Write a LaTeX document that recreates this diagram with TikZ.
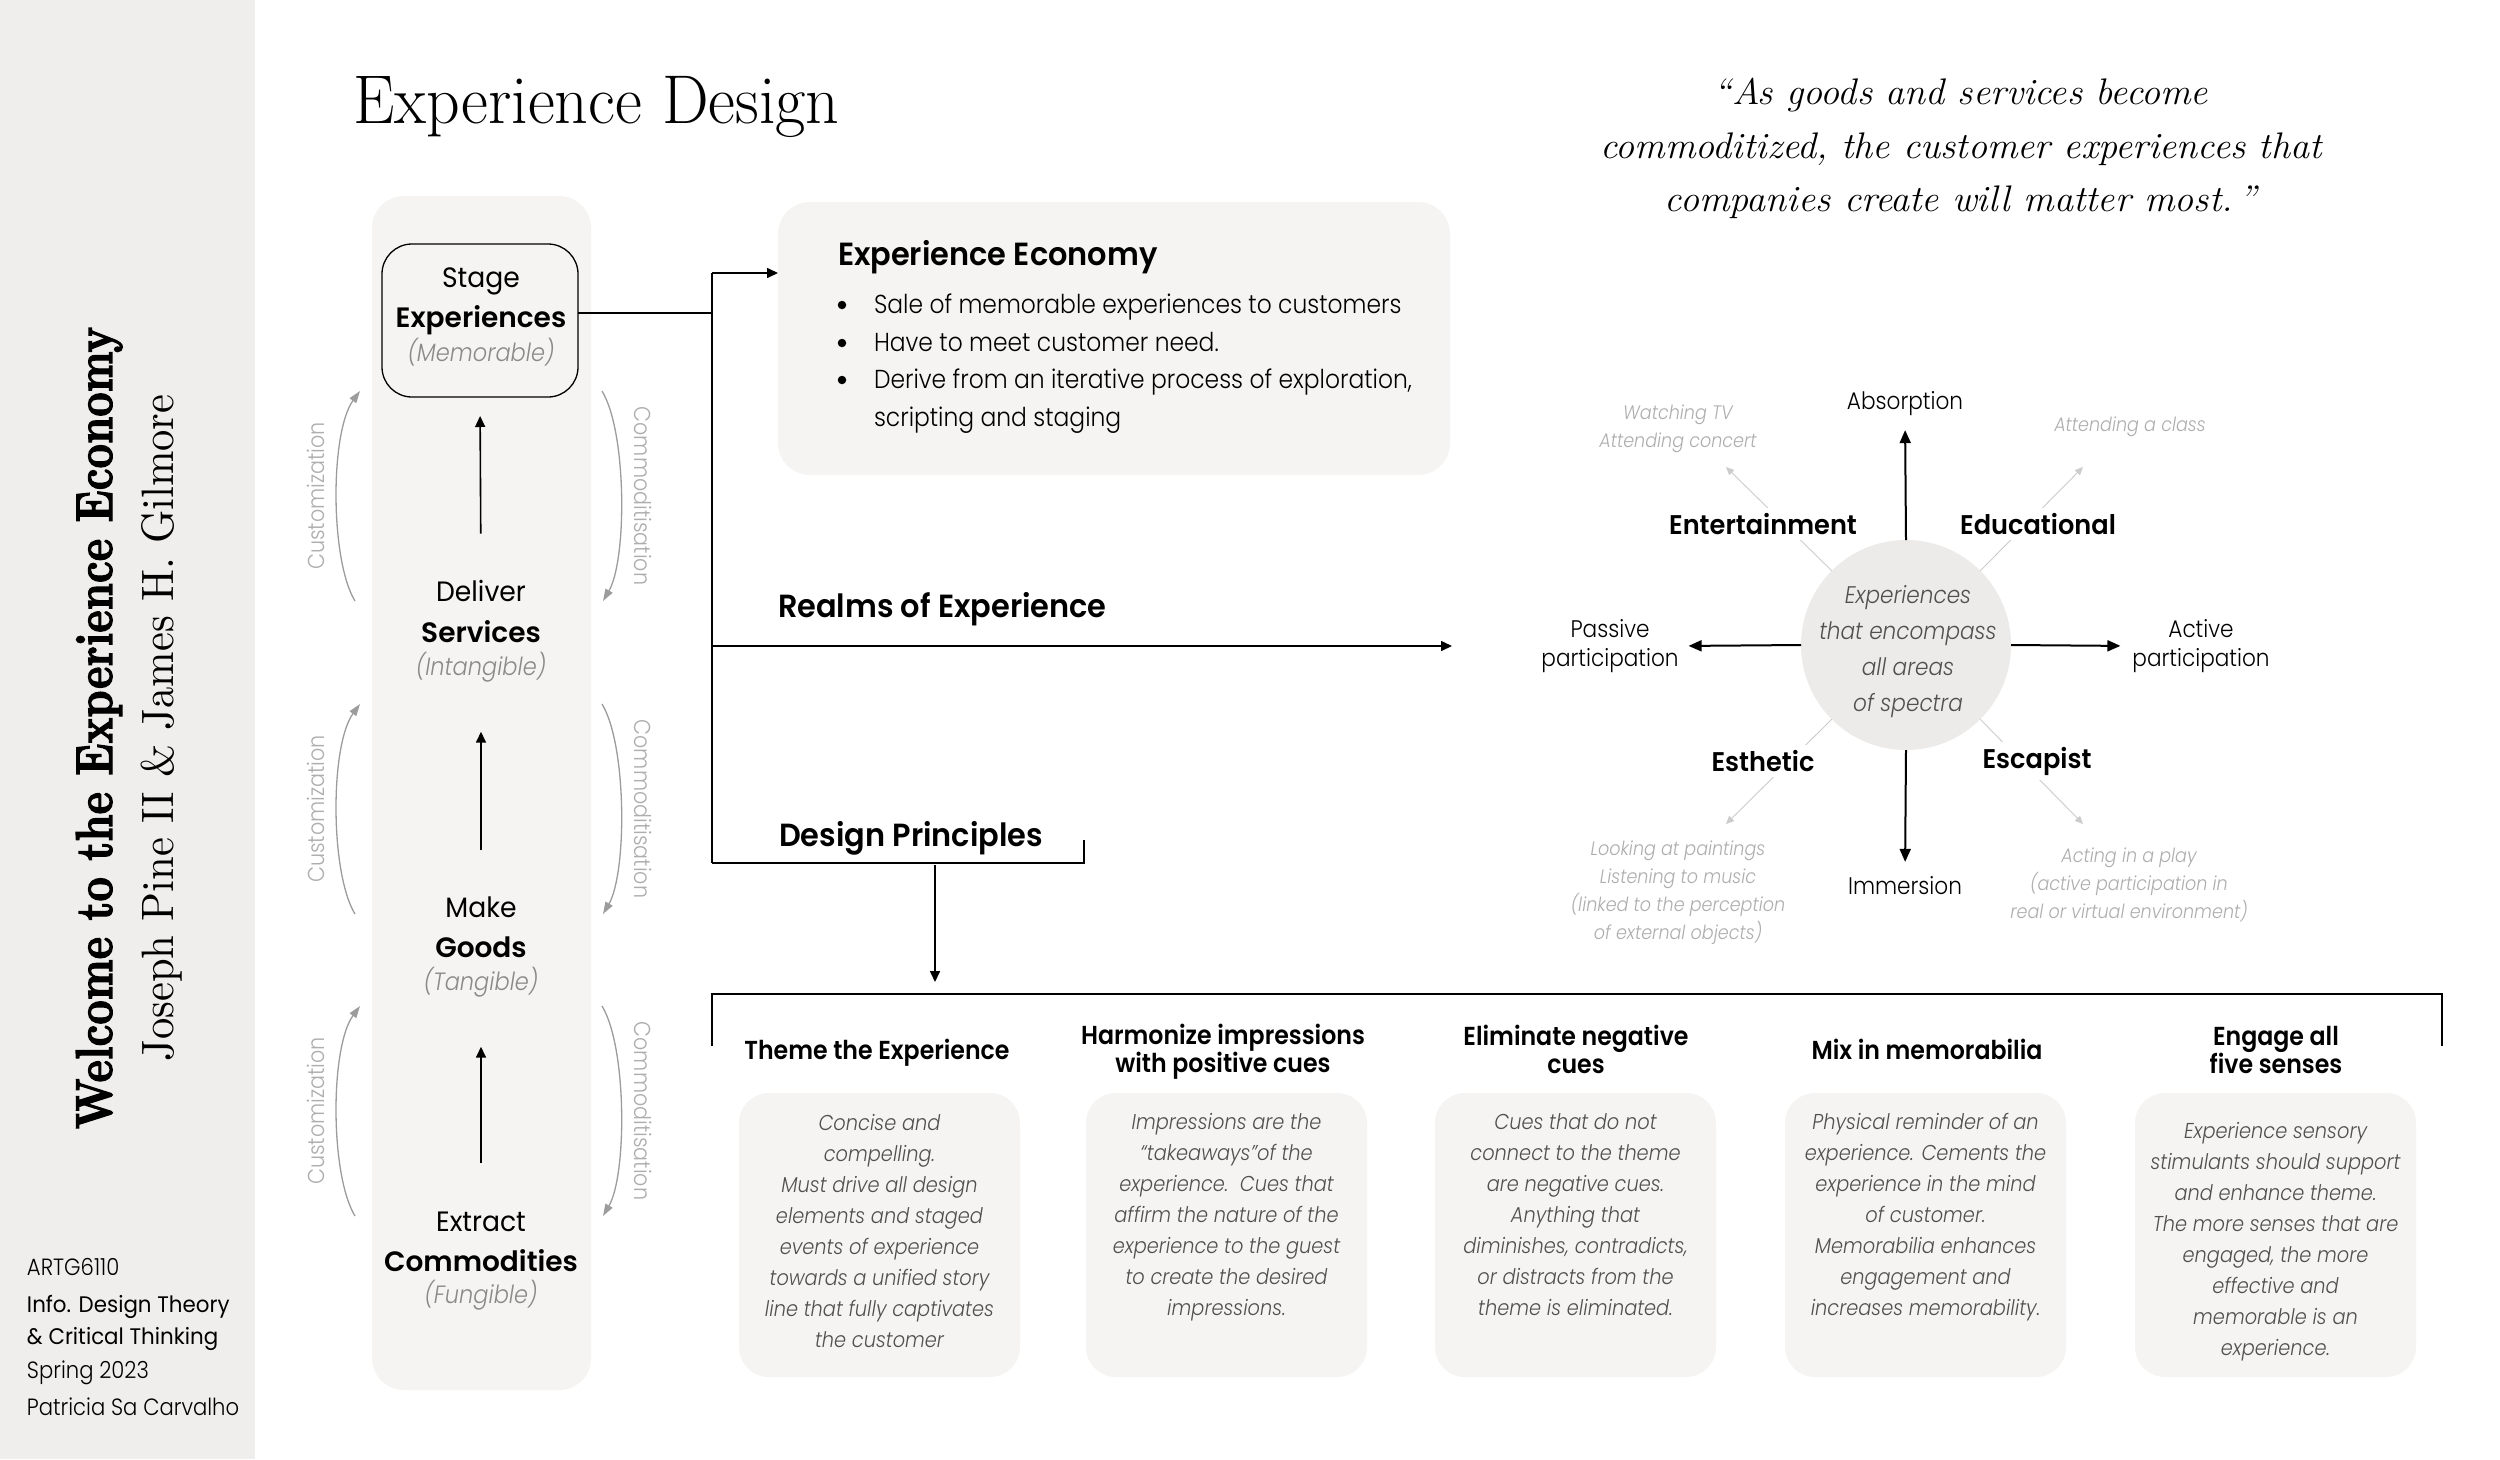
\documentclass[tikz,border=0pt]{standalone}
\usepackage{fontspec}
\usepackage{graphicx}
\usetikzlibrary{arrows.meta}

\newfontfamily\fL{Poppins}[UprightFont=* Light, ItalicFont=* Light Italic, BoldFont=* SemiBold, FakeStretch=0.9]
\newfontfamily\fR{Poppins}[FakeStretch=0.95]
\newfontfamily\fB{Poppins}[UprightFont=* SemiBold, FakeStretch=0.95]
\newfontfamily\fBn{Poppins}[UprightFont=* SemiBold, FakeStretch=0.91]
\newfontfamily\fBw{Poppins}[UprightFont=* SemiBold]
\newfontfamily\qfont{Latin Modern Roman}[FakeStretch=1.03]
\newfontfamily\tfont{Latin Modern Roman}[FakeStretch=0.955]
\newfontfamily\vbold{Latin Modern Roman}[FakeBold=2.5]

\definecolor{stripc}{HTML}{EFEEEC}
\definecolor{panelc}{HTML}{F5F4F2}
\definecolor{circc}{HTML}{ECEBE9}
\definecolor{lightg}{HTML}{AEAEAE}
\definecolor{diagg}{HTML}{CCCCCC}
\definecolor{arcg}{HTML}{9C9C9C}
\definecolor{midg}{HTML}{8A8A8A}
\definecolor{textg}{HTML}{505050}

\tikzset{
  conn/.style={line width=1.6pt, draw=black},
  arr/.style={conn, -{Triangle[length=11pt,width=10pt]}},
  bigarr/.style={line width=2pt, draw=black, -{Triangle[length=13pt,width=11pt]}},
  diagline/.style={line width=0.9pt, draw=diagg, -{Triangle[length=8pt,width=7pt]}},
  arcline/.style={line width=1.3pt, draw=arcg, -{Triangle[length=12pt,width=8pt]}},
  arclabel/.style={font=\fL\fontsize{23}{25}\selectfont, text=lightg},
  panel/.style={fill=panelc, rounded corners=32pt, draw=none},
  lvlA/.style={anchor=base, font=\fR\fontsize{28}{30}\selectfont},
  lvlB/.style={anchor=base, font=\fBw\fontsize{28}{30}\selectfont},
  lvlC/.style={anchor=base, font=\fL\itshape\fontsize{25}{27}\selectfont, text=midg},
  headtxt/.style={anchor=base west, font=\fB\fontsize{32}{36}\selectfont},
  bodytxt/.style={anchor=base west, font=\fL\fontsize{26}{32}\selectfont},
  bullet/.style={circle, fill=black, minimum size=8.5pt},
  phead/.style={font=\fBn\fontsize{26}{28}\selectfont, align=center},
  cardbox/.style={panel, rounded corners=30pt, minimum width=281pt, minimum height=284pt},
  ctext/.style={font=\fL\itshape\fontsize{21.5}{31}\selectfont, text=textg, align=center},
  realm/.style={font=\fB\fontsize{27}{30}\selectfont, fill=white, inner sep=5pt},
  axislbl/.style={font=\fL\fontsize{24}{29}\selectfont, align=center},
  example/.style={font=\fL\itshape\fontsize{19.5}{28}\selectfont, text=lightg, align=center},
  course/.style={anchor=base west, font=\fL\fontsize{23.5}{24}\selectfont},
  courseR/.style={anchor=base west, font=\fR\fontsize{22.5}{24}\selectfont},
  quote/.style={anchor=base, font=\qfont\itshape\fontsize{37}{40}\selectfont},
}

\begin{document}
\begin{tikzpicture}[x=1pt,y=-1pt, every node/.style={inner sep=0pt, outer sep=0pt}]
\useasboundingbox (0,0) rectangle (2500,1459);
\fill[white] (0,0) rectangle (2500,1459);
\fill[stripc] (0,0) rectangle (255,1459);

% ---- left strip
\node[rotate=90, anchor=base] (welcome) at (112,728)
  {\resizebox{802pt}{36pt}{\vbold\bfseries Welcome to the Experience Economy}};
\node[rotate=90, anchor=base] (authors) at (173,728)
  {\resizebox{667pt}{32.5pt}{Joseph Pine II \& James H. Gilmore}};
\node[course]  (c1) at (27,1275) {ARTG6110};
\node[courseR] (c2) at (27,1312) {Info. Design Theory};
\node[courseR] (c3) at (27,1344) {\& Critical Thinking};
\node[course]  (c4) at (27,1378) {Spring 2023};
\node[course]  (c5) at (27,1415) {Patricia Sa Carvalho};

% ---- title and quote
\node[anchor=base west] (title) at (353,123) {\tfont\fontsize{69}{80}\selectfont Experience Design};
\node[quote] (q1) at (1961,104) {“As goods and services become};
\node[quote] (q2) at (1961,158) {commoditized, the customer experiences that};
\node[quote] (q3) at (1961,211) {companies create will matter most.\,”};

% ---- level column
\node[panel, minimum width=219pt, minimum height=1194pt] (col) at (481.5,793) {};
\node[draw, line width=1.3pt, rounded corners=30pt, fill=panelc, minimum width=196pt, minimum height=153pt] (stagebox) at (480,320.5) {};

\node[lvlA] (stA) at (481,287) {Stage};
\node[lvlB] (stB) at (481,327) {Experiences};
\node[lvlC] (stC) at (481,361) {(Memorable)};
\node[lvlA] (dlA) at (481,601) {Deliver};
\node[lvlB] (dlB) at (481,642) {Services};
\node[lvlC] (dlC) at (481,675) {(Intangible)};
\node[lvlA] (mkA) at (481,917) {Make};
\node[lvlB] (mkB) at (481,957) {Goods};
\node[lvlC] (mkC) at (481,990) {(Tangible)};
\node[lvlA] (exA1) at (481,1231) {Extract};
\node[lvlB] (exB1) at (481,1271) {Commodities};
\node[lvlC] (exC1) at (481,1303) {(Fungible)};

\draw[arr, shorten <=46pt, shorten >=19pt] (dlA.north) -- (stagebox.south);
\draw[arr, shorten <=46pt, shorten >=50pt] (mkA.north) -- (dlC.south);
\draw[arr, shorten <=48pt, shorten >=50pt] (exA1.north) -- (mkC.south);

\foreach \dy/\nm in {0/a,313/b,615/c}{
  \draw[arcline] (355,{601+\dy}) .. controls (330,{560+\dy}) and (330,{432+\dy}) .. (360,{391+\dy});
  \draw[arcline] (602,{391+\dy}) .. controls (627,{432+\dy}) and (627,{560+\dy}) .. (603,{601+\dy});
  \node[arclabel, rotate=90] (cust\nm) at (316,{496+\dy}) {Customization};
  \node[arclabel, rotate=-90] (comm\nm) at (643,{496+\dy}) {Commoditisation};
}

% ---- experience economy box
\node[panel, minimum width=672pt, minimum height=273pt] (econ) at (1114,338.5) {};
\node[headtxt] (econH) at (838,265) {Experience Economy};
\node[bullet] (bu1) at (842,305) {};
\node[bullet] (bu2) at (842,343) {};
\node[bullet] (bu3) at (842,380) {};
\node[bodytxt] (e1) at (874,313) {Sale of memorable experiences to customers};
\node[bodytxt] (e2) at (874,351) {Have to meet customer need.};
\node[bodytxt] (e3) at (874,388) {Derive from an iterative process of exploration,};
\node[bodytxt] (e4) at (874,426) {scripting and staging};

% ---- connectors
\coordinate (jS) at (712,313);
\coordinate (jT) at (712,273);
\coordinate (jB) at (712,863);
\coordinate (rTip) at (1452,646);
\coordinate (dpEnd) at (1084,840);
\draw[conn] (stagebox.east |- jS) -- (jS);
\draw[conn] (jT) -- (jB);
\draw[arr] (jT) -- (econ.west |- jT);
\draw[arr] (jT |- rTip) -- (rTip);
\draw[conn] (jB) -- (jB -| dpEnd) -- (dpEnd);
\node[headtxt] (realmsH) at (778,617) {Realms of Experience};
\node[headtxt] (dpH) at (779,846) {Design Principles};
\coordinate (dA) at (935,865);
\coordinate (dB) at (935,982);
\draw[arr] (dA) -- (dB);
\coordinate (bL) at (712,1046);
\coordinate (bR) at (2442,1046);
\draw[line width=2pt] (bL) -- (712,994) -- (2442,994) -- (bR);

% ---- realms diagram
\node[circle, fill=circc, minimum size=210pt, inner sep=0pt] (circ) at (1906,645) {};
\node[align=center, font=\fL\itshape\fontsize{24}{36}\selectfont, text=textg] (circT) at (1908,652)
      {Experiences\\that encompass\\all areas\\of spectra};
\node[axislbl] (absorp) at (1905,404) {Absorption};
\node[axislbl] (immers) at (1905,886) {Immersion};
\node[axislbl] (passive) at (1610,646) {Passive\\participation};
\node[axislbl] (active) at (2201,646) {Active\\participation};
\draw[bigarr, shorten >=14pt] (circ.north) -- (absorp.south);
\draw[bigarr, shorten >=15pt] (circ.south) -- (immers.north);
\draw[bigarr, shorten >=10pt] (circ.west) -- (passive.east);
\draw[bigarr, shorten >=12pt] (circ.east) -- (active.west);

\coordinate (tNW) at (1726,467);
\coordinate (tNE) at (2083,467);
\coordinate (tSW) at (1726,824);
\coordinate (tSE) at (2083,824);
\draw[diagline] (circ.135) -- (tNW);
\draw[diagline] (circ.45) -- (tNE);
\draw[diagline] (circ.225) -- (tSW);
\draw[diagline] (circ.315) -- (tSE);

\node[realm] (ent) at (1763,524) {Entertainment};
\node[realm] (edu) at (2038,524) {Educational};
\node[realm] (est) at (1763,761) {Esthetic};
\node[realm] (esc) at (2037,761) {Escapist};

\node[example] (xA) at (1678,429) {Watching TV\\Attending concert};
\node[example] (xB) at (2130,427) {Attending a class};
\node[example] (xC) at (1678,893) {Looking at paintings\\Listening to music\\(linked to the perception\\of external objects)};
\node[example] (xD) at (2129,885) {Acting in a play\\(active participation in\\real or virtual environment)};

% ---- design principles
\node[phead, anchor=base] (p1) at (877,1059) {Theme the Experience};
\node[phead] (p2) at (1223,1052) {Harmonize impressions\\with positive cues};
\node[phead] (p3) at (1576,1049.5) {Eliminate negative\\cues};
\node[phead, anchor=base] (p4) at (1927,1059) {Mix in memorabilia};
\node[phead] (p5) at (2276,1049.5) {Engage all\\five senses};

\node[cardbox] (k1) at (879.5,1235) {};
\node[cardbox] (k2) at (1226.5,1235) {};
\node[cardbox] (k3) at (1575.5,1235) {};
\node[cardbox] (k4) at (1925.5,1235) {};
\node[cardbox] (k5) at (2275.5,1235) {};

\node[ctext] (t1) at (879.5,1230.5) {Concise and\\compelling.\\Must drive all design\\elements and staged\\events of experience\\towards a unified story\\line that fully captivates\\the customer};
\node[ctext] (t2) at (1226.5,1217.5) {Impressions are the\\“takeaways”of the\\experience.\ \ Cues that\\affirm the nature of the\\experience to the guest\\to create the desired\\impressions.};
\node[ctext] (t3) at (1575.5,1215) {Cues that do not\\connect to the theme\\are negative cues.\\Anything that\\diminishes, contradicts,\\or distracts from the\\theme is eliminated.};
\node[ctext] (t4) at (1925.5,1217.5) {Physical reminder of an\\experience. Cements the\\experience in the mind\\of customer.\\Memorabilia enhances\\engagement and\\increases memorability.};
\node[ctext] (t5) at (2275.5,1242) {Experience sensory\\stimulants should support\\and enhance theme.\\The more senses that are\\engaged, the more\\effective and\\memorable is an\\experience.};
\end{tikzpicture}
\end{document}
